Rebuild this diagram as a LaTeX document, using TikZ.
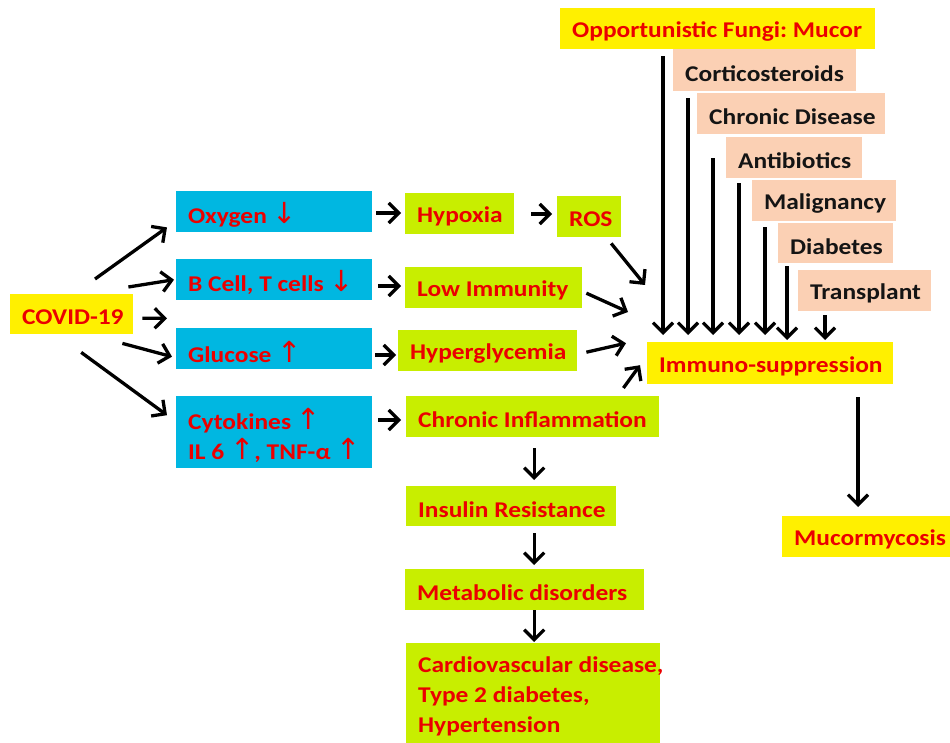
\documentclass[tikz,border=0pt]{standalone}
\usepackage{fontspec}
\setmainfont{Carlito}[FakeStretch=1.13]
\newfontfamily\arrfont{DejaVu Sans}
\usetikzlibrary{arrows.meta,calc}
\frenchspacing
\definecolor{yel}{RGB}{255,240,0}
\definecolor{blu}{RGB}{0,183,225}
\definecolor{grn}{RGB}{200,238,0}
\definecolor{pch}{RGB}{251,208,180}
\definecolor{txr}{RGB}{235,0,0}
\definecolor{txk}{RGB}{20,20,20}
\newcommand\uarr{{\arrfont\mdseries\fontsize{29}{30}\selectfont ↑}}
\newcommand\darr{{\arrfont\mdseries\fontsize{29}{30}\selectfont ↓}}
\newcommand\mybox[8][txr]{%
  \node[boxshape, fill=#3, minimum width=#6pt, minimum height=#7pt] (#2) at (#4,#5) {};
  \node[boxtext, text=#1] (#2t) at ([xshift=12pt,yshift=-3pt]#2.west) {#8};
}
\begin{document}
\begin{tikzpicture}[x=1pt,y=-1pt,
  boxshape/.style={anchor=north west, inner sep=0pt, draw=none},
  boxtext/.style={anchor=west, inner sep=0pt, align=left,
    font=\fontsize{22.5}{30}\selectfont\bfseries},
  ar/.style={line width=3.3pt, -{Straight Barb[length=10pt,width=20pt]}}]
\fill[white] (0,0) rectangle (950,743);
\useasboundingbox (0,0) rectangle (950,743);

\mybox{covid}{yel}{10}{294}{123}{40}{COVID-19}
\mybox{ox}{blu}{176}{191}{196}{41}{Oxygen \darr}
\mybox{bt}{blu}{176}{259}{196}{41}{B Cell, T cells \darr}
\mybox{glu}{blu}{176}{328}{196}{41}{Glucose \uarr}
\mybox{cyt}{blu}{176}{396}{196}{72}{Cytokines \uarr\\IL 6 \uarr, TNF-α \uarr}
\mybox{hyp}{grn}{405}{193}{109}{41}{Hypoxia}
\mybox{ros}{grn}{557}{196}{64}{41}{ROS}
\mybox{low}{grn}{405}{267}{177}{41}{Low Immunity}
\mybox{hgl}{grn}{398}{330}{179}{41}{Hyperglycemia}
\mybox{chr}{grn}{406}{396}{253}{41}{Chronic Inflammation}
\mybox{ins}{grn}{406}{486}{210}{40}{Insulin Resistance}
\mybox{met}{grn}{405}{569}{239}{41}{Metabolic disorders}
\mybox{car}{grn}{406}{643}{254}{100}{Cardiovascular disease,\\Type 2 diabetes,\\Hypertension}
\mybox{fun}{yel}{560}{8}{315}{41}{Opportunistic Fungi: Mucor}
\mybox[txk]{cor}{pch}{673}{49}{183}{42}{Corticosteroids}
\mybox[txk]{chd}{pch}{697}{93}{188}{41}{Chronic Disease}
\mybox[txk]{ant}{pch}{726}{137}{136}{41}{Antibiotics}
\mybox[txk]{mal}{pch}{752}{180}{144}{41}{Malignancy}
\mybox[txk]{dia}{pch}{778}{223}{115}{40}{Diabetes}
\mybox[txk]{tra}{pch}{798}{270}{133}{41}{Transplant}
\mybox{imm}{yel}{647}{342}{246}{42}{Immuno-suppression}
\mybox{muc}{yel}{782}{516}{168}{41}{Mucormycosis}

% COVID-19 outgoing arrows
\draw[ar] ($(covid.north west)+(85,-15)$) -- ($(ox.south west)+(-9,-5)$);
\draw[ar] ($(covid.north east)+(-5,-7)$) -- ($(bt.west)+(-2,0)$);
\draw[ar] ($(covid.east)+(9,4)$) -- ($(bt.south west)+(-9,18)$);
\draw[ar] ($(covid.south east)+(-11,9)$) -- ($(glu.west)+(-4,8)$);
\draw[ar] ($(covid.south)+(9.5,18)$) -- ($(cyt.west)+(-9,-17)$);

% blue to green
\draw[ar, shorten <=4pt, shorten >=4pt] (ox.east |- 0,213) -- (hyp.west |- 0,213);
\draw[ar, shorten <=6pt, shorten >=4pt] (bt.east |- 0,286) -- (low.west |- 0,286);
\draw[ar, shorten <=3pt, shorten >=2pt] (glu.east |- 0,355) -- (hgl.west |- 0,355);
\draw[ar, shorten <=6pt, shorten >=5pt] (cyt.east |- 0,420) -- (chr.west |- 0,420);
\draw[ar, shorten <=17pt, shorten >=5pt] (hyp.east |- 0,214) -- (ros.west |- 0,214);

% into immuno-suppression from the left
\draw[ar] ($(ros.south)+(22,6)$) -- ($(imm.north west)+(-2,-57)$);
\draw[ar] ($(low.east)+(4,5.5)$) -- ($(imm.north west)+(-19,-30)$);
\draw[ar] ($(hgl.east)+(9,1.5)$) -- ($(imm.west)+(-21,-20)$);
\draw[ar] ($(chr.north east)+(-36,-8)$) -- ($(imm.west)+(-7,2)$);

% vertical arrows from the risk factors
\coordinate (v1) at ($(fun.south west)+(103,7)$);
\coordinate (v2) at ($(cor.south west)+(15,7)$);
\coordinate (v3) at ($(chd.south west)+(16,24)$);
\coordinate (v4) at ($(ant.south west)+(13,5)$);
\coordinate (v5) at ($(mal.south west)+(13,6)$);
\coordinate (v6) at ($(dia.south west)+(9,3)$);
\coordinate (v7) at ($(tra.south west)+(27,4)$);
\foreach \v in {v1,v2,v3,v4,v5}
  \draw[ar, shorten >=7pt] (\v) -- (\v |- imm.north);
\foreach \v in {v6,v7}
  \draw[ar, shorten >=2pt] (\v) -- (\v |- imm.north);

% immuno-suppression to mucormycosis
\coordinate (m1) at ($(imm.south west)+(211,13)$);
\draw[ar, shorten >=9pt] (m1) -- (m1 |- muc.north);

% vertical chain
\coordinate (k1) at ($(chr.south)+(1.5,11)$);
\draw[ar, shorten >=6pt] (k1) -- (k1 |- ins.north);
\coordinate (k2) at ($(ins.south)+(23,7)$);
\draw[ar, shorten >=4pt] (k2) -- (k2 |- met.north);
\coordinate (k3) at ($(met.south)+(9.5,0)$);
\draw[ar, shorten >=1pt] (k3) -- (k3 |- car.north);
\end{tikzpicture}
\end{document}
